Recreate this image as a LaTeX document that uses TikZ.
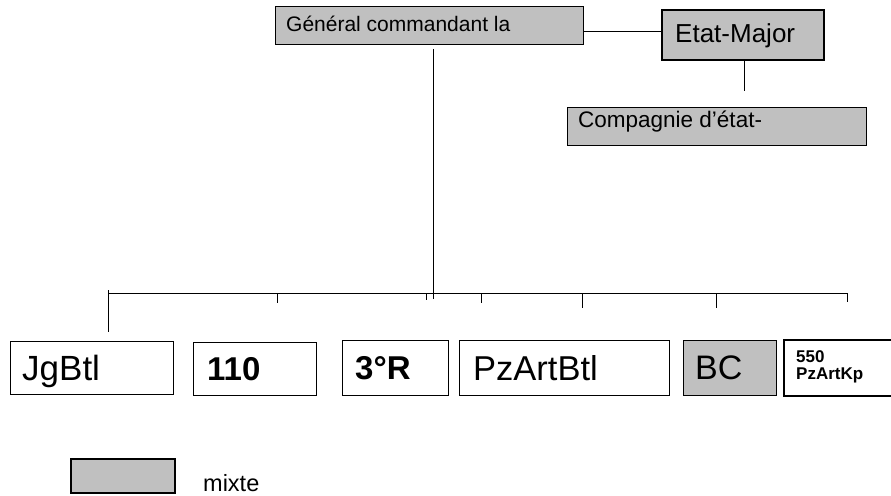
\documentclass[tikz,border=0pt]{standalone}
\usepackage{fontspec}
\setmainfont{Liberation Sans}
\definecolor{boxgray}{HTML}{C0C0C0}
\tikzset{
  box/.style={draw=black, line width=1pt, anchor=north west, inner sep=0pt},
  gbox/.style={box, fill=boxgray},
  thickbox/.style={box, line width=2pt},
  txt/.style={anchor=base west, inner sep=0pt},
  conn/.style={draw=black, line width=1pt},
}
\newcommand{\fsz}[1]{\fontsize{#1}{#1}\selectfont}
\begin{document}
\begin{tikzpicture}[x=1pt,y=-1pt]
\clip (0,0) rectangle (891,495);
\fill[white] (0,0) rectangle (891,495);
% top
\node[gbox, minimum width=308pt, minimum height=38pt] (gen) at (275,6) {};
\node[txt] (gent) at (286,32) {\fsz{21}Général commandant la};
\node[thickbox, fill=boxgray, minimum width=162pt, minimum height=50pt] (em) at (661,9) {};
\node[txt] (emt) at (675,43) {\fsz{26}Etat-Major};
\node[gbox, minimum width=299pt, minimum height=38pt] (cie) at (567,107) {};
\node[txt] (ciet) at (578,127) {\fsz{22.5}Compagnie d’état-};
% connectors top
\coordinate (hy) at (0,32);
\draw[conn] (gen.east |- hy) -- (em.west |- hy);
\coordinate (emd) at (744,91);
\draw[conn] (emd |- em.south) -- (emd);
\coordinate (gtop) at (433,49);
\coordinate (gbot) at (433,299);
\draw[conn] (gtop) -- (gbot);
% bus
\coordinate (busL) at (108,293);
\coordinate (busR) at (847,293);
\draw[conn] (busL) -- (busR);
\coordinate (t1a) at (108,290); \coordinate (t1b) at (108,332);
\coordinate (t2a) at (277,293); \coordinate (t2b) at (277,303);
\coordinate (t3a) at (426,293); \coordinate (t3b) at (426,300);
\coordinate (t4a) at (481,293); \coordinate (t4b) at (481,303);
\coordinate (t5a) at (582,293); \coordinate (t5b) at (582,308);
\coordinate (t6a) at (716,293); \coordinate (t6b) at (716,308);
\coordinate (t7a) at (847,293); \coordinate (t7b) at (847,302);
\draw[conn] (t1a) -- (t1b);
\draw[conn] (t2a) -- (t2b);
\draw[conn] (t3a) -- (t3b);
\draw[conn] (t4a) -- (t4b);
\draw[conn] (t5a) -- (t5b);
\draw[conn] (t6a) -- (t6b);
\draw[conn] (t7a) -- (t7b);
% bottom row
\node[box, minimum width=163pt, minimum height=53pt] (jg) at (10,341) {};
\node[txt] (jgt) at (22,380) {\fsz{35}JgBtl};
\node[box, minimum width=123pt, minimum height=53pt] (b110) at (193,342) {};
\node[txt] (b110t) at (207,380) {\fsz{33}\bfseries 110};
\node[box, minimum width=106pt, minimum height=55pt] (r3) at (342,340) {};
\node[txt] (r3t) at (355,379) {\fsz{33}\bfseries 3°R};
\node[box, minimum width=210pt, minimum height=55pt] (pz) at (459,340) {};
\node[txt] (pzt) at (473,380) {\fsz{34.5}PzArtBtl};
\node[gbox, minimum width=93pt, minimum height=55pt] (bc) at (683,340) {};
\node[txt] (bct) at (695,379) {\fsz{34}BC};
\node[thickbox, minimum width=112pt, minimum height=56pt] (k550) at (783,339) {};
\node[txt] (k550a) at (796,362) {\fsz{17}\bfseries 550};
\node[txt] (k550b) at (796,379) {\fsz{17}\bfseries PzArtKp};
% legend
\node[thickbox, fill=boxgray, minimum width=104pt, minimum height=34pt] (leg) at (70,458) {};
\node[txt] (legt) at (203,491) {\fsz{23.5}mixte};
\end{tikzpicture}
\end{document}
